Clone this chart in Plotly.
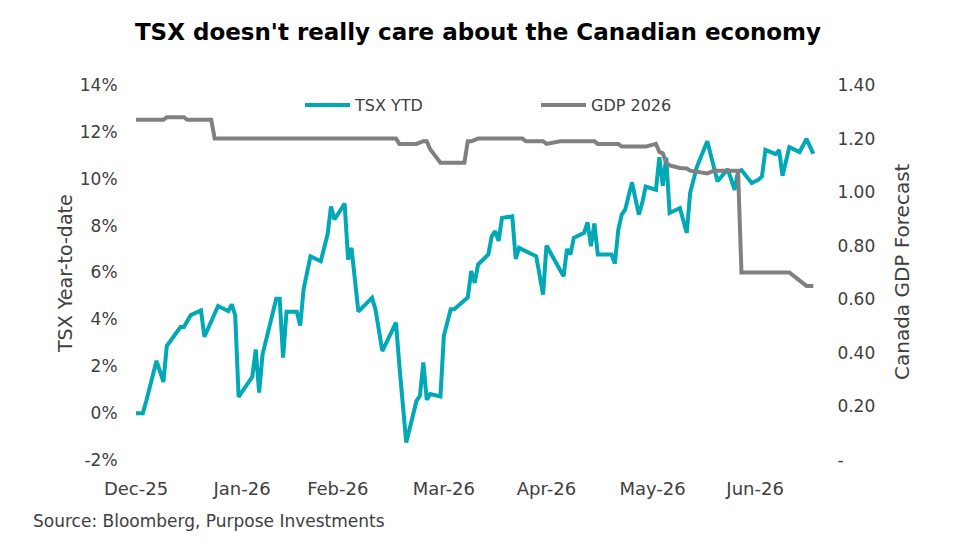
import plotly.graph_objects as go

# TSX year-to-date return (%)
tsx_dates = [
    "2025-12-31", "2026-01-02", "2026-01-03", "2026-01-05", "2026-01-06", "2026-01-08",
    "2026-01-09", "2026-01-13", "2026-01-14", "2026-01-16", "2026-01-19", "2026-01-20",
    "2026-01-24", "2026-01-27", "2026-01-28", "2026-01-29", "2026-01-30", "2026-02-03",
    "2026-02-04", "2026-02-05", "2026-02-06", "2026-02-10", "2026-02-11", "2026-02-12",
    "2026-02-13", "2026-02-16", "2026-02-17", "2026-02-18", "2026-02-20", "2026-02-23",
    "2026-02-25", "2026-02-26", "2026-02-27", "2026-03-02", "2026-03-03", "2026-03-04",
    "2026-03-06", "2026-03-10", "2026-03-11", "2026-03-13", "2026-03-17", "2026-03-18",
    "2026-03-20", "2026-03-23", "2026-03-24", "2026-03-25", "2026-03-26", "2026-03-27",
    "2026-03-30", "2026-03-31", "2026-04-02", "2026-04-03", "2026-04-06", "2026-04-07",
    "2026-04-08", "2026-04-09", "2026-04-10", "2026-04-13", "2026-04-14", "2026-04-15",
    "2026-04-16", "2026-04-17", "2026-04-20", "2026-04-21", "2026-04-22", "2026-04-24",
    "2026-04-27", "2026-04-29", "2026-04-30", "2026-05-05", "2026-05-06", "2026-05-07",
    "2026-05-08", "2026-05-11", "2026-05-12", "2026-05-13", "2026-05-14", "2026-05-15",
    "2026-05-19", "2026-05-20", "2026-05-21", "2026-05-22", "2026-05-23", "2026-05-25",
    "2026-05-27", "2026-05-28", "2026-05-29", "2026-06-01", "2026-06-02", "2026-06-03",
    "2026-06-04", "2026-06-05", "2026-06-08", "2026-06-10", "2026-06-11", "2026-06-13",
    "2026-06-16", "2026-06-19", "2026-06-22", "2026-06-24", "2026-06-25", "2026-06-26",
    "2026-06-29", "2026-07-01", "2026-07-02", "2026-07-03", "2026-07-06", "2026-07-07",
    "2026-07-08", "2026-07-10", "2026-07-13", "2026-07-15", "2026-07-17",
]
tsx_ytd = [
    0.00, 0.00, 0.52, 1.59, 2.23, 1.33,
    2.86, 3.67, 3.67, 4.18, 4.38, 3.26,
    4.57, 4.35, 4.64, 4.17, 0.69, 1.55,
    2.72, 0.88, 2.51, 4.88, 4.88, 2.37,
    4.33, 4.33, 3.74, 5.28, 6.69, 6.48,
    7.62, 8.82, 8.26, 8.94, 6.55, 7.05,
    4.33, 4.92, 4.43, 2.65, 3.86, 2.01,
    -1.25, 0.52, 0.74, 2.16, 0.57, 0.81,
    0.71, 3.30, 4.43, 4.43, 4.78, 4.93,
    6.06, 5.56, 6.34, 6.77, 7.55, 7.76,
    7.35, 8.33, 8.40, 6.58, 7.05, 6.90,
    6.69, 5.06, 7.15, 5.84, 7.00, 6.77,
    7.48, 7.69, 8.14, 7.12, 8.09, 6.77,
    6.77, 6.38, 7.83, 8.47, 8.68, 9.84,
    8.47, 8.97, 9.67, 9.53, 10.92, 9.70,
    10.90, 8.54, 8.75, 7.69, 9.40, 10.52,
    11.60, 9.89, 10.41, 9.53, 10.31, 10.37,
    9.82, 9.96, 10.10, 11.23, 11.05, 11.23,
    10.13, 11.35, 11.14, 11.70, 11.07,
]

# Canada 2026 GDP forecast (consensus)
gdp_dates = [
    "2025-12-31", "2026-01-08", "2026-01-09", "2026-01-14", "2026-01-15", "2026-01-22",
    "2026-01-23", "2026-03-17", "2026-03-18", "2026-03-23", "2026-03-25", "2026-03-26",
    "2026-03-27", "2026-03-30", "2026-04-06", "2026-04-07", "2026-04-08", "2026-04-10",
    "2026-04-23", "2026-04-24", "2026-04-29", "2026-04-30", "2026-05-04", "2026-05-14",
    "2026-05-15", "2026-05-21", "2026-05-22", "2026-05-29", "2026-06-01", "2026-06-02",
    "2026-06-03", "2026-06-04", "2026-06-05", "2026-06-08", "2026-06-10", "2026-06-11",
    "2026-06-16", "2026-06-18", "2026-06-25", "2026-06-26", "2026-07-10", "2026-07-13",
    "2026-07-15", "2026-07-17",
]
gdp_2026 = [
    1.27, 1.27, 1.28, 1.28, 1.27, 1.27,
    1.20, 1.20, 1.18, 1.18, 1.19, 1.19,
    1.16, 1.11, 1.11, 1.19, 1.19, 1.20,
    1.20, 1.19, 1.19, 1.18, 1.19, 1.19,
    1.18, 1.18, 1.17, 1.17, 1.18, 1.15,
    1.145, 1.11, 1.10, 1.09, 1.088, 1.08,
    1.07, 1.08, 1.08, 0.70, 0.70, 0.67,
    0.65, 0.65,
]

month_ticks = ["2025-12-31", "2026-01-31", "2026-02-28", "2026-03-31",
               "2026-04-30", "2026-05-31", "2026-06-30"]
month_labels = ["Dec-25", "Jan-26", "Feb-26", "Mar-26", "Apr-26", "May-26", "Jun-26"]

left_ticks = [-2, 0, 2, 4, 6, 8, 10, 12, 14]
left_labels = ["-2%", "0%", "2%", "4%", "6%", "8%", "10%", "12%", "14%"]
right_ticks = [0, 0.2, 0.4, 0.6, 0.8, 1.0, 1.2, 1.4]
right_labels = ["-", "0.20", "0.40", "0.60", "0.80", "1.00", "1.20", "1.40"]

TEAL = "#00A9B5"
GREY = "#808080"
FONT = "DejaVu Sans"
TXT = "#404040"
x_range = ["2025-12-31", "2026-07-17 12:00"]

# page body adds an 8px offset, so margins are shifted to keep the plot box in place
W, H = 956, 557
fig = go.Figure()
fig.add_trace(go.Scatter(x=tsx_dates, y=tsx_ytd, name="TSX YTD", mode="lines",
                         line=dict(color=TEAL, width=4)))
fig.add_trace(go.Scatter(x=gdp_dates, y=gdp_2026, name="GDP 2026", mode="lines",
                         line=dict(color=GREY, width=4), yaxis="y2"))

fig.update_layout(
    width=W, height=H,
    margin=dict(l=128, r=149, t=77, b=105),
    paper_bgcolor="white", plot_bgcolor="white",
    font=dict(family=FONT, color=TXT, size=16),
    title=dict(text="<b>TSX doesn't really care about the Canadian economy</b>",
               x=470 / W, xanchor="center", y=1 - 24 / H, yanchor="middle",
               font=dict(family=FONT, size=23, color="#000000")),
    showlegend=True,
    legend=dict(orientation="h", x=(300 - 136) / 679, xanchor="left",
                y=(460 - 105) / 375, yanchor="middle",
                bgcolor="rgba(0,0,0,0)", font=dict(size=16, color=TXT),
                entrywidth=176, itemwidth=45),
    xaxis=dict(type="date", range=x_range, tickvals=month_ticks, ticktext=month_labels,
               showgrid=False, showline=False, zeroline=False,
               ticks="outside", ticklen=12, tickcolor="rgba(0,0,0,0)",
               tickfont=dict(size=18, color=TXT)),
    xaxis2=dict(type="date", range=x_range, overlaying="x", anchor="free",
                position=0.125, tickvals=month_ticks, showticklabels=False,
                showgrid=False, zeroline=False, showline=True,
                linecolor="#d9d9d9", linewidth=1.5,
                ticks="outside", ticklen=5, tickcolor="#d9d9d9", tickwidth=1.5),
    yaxis=dict(range=[-2, 14], tickvals=left_ticks, ticktext=left_labels,
               showgrid=False, zeroline=False, showline=False,
               ticks="outside", ticklen=14, tickcolor="rgba(0,0,0,0)",
               tickfont=dict(size=17, color=TXT)),
    yaxis2=dict(range=[0, 1.4], tickvals=right_ticks, ticktext=right_labels,
                overlaying="y", side="right", showgrid=False, zeroline=False,
                showline=False, ticks="outside", ticklen=18,
                tickcolor="rgba(0,0,0,0)", tickfont=dict(size=17, color=TXT)),
    annotations=[
        dict(text="TSX Year-to-date", textangle=-90, xref="paper", yref="paper",
             x=(65 - 136) / 679, y=(460 - 274) / 375, xanchor="center",
             yanchor="middle", showarrow=False, font=dict(size=19, color=TXT)),
        dict(text="Canada GDP Forecast", textangle=-90, xref="paper", yref="paper",
             x=(902 - 136) / 679, y=(460 - 272) / 375, xanchor="center",
             yanchor="middle", showarrow=False, font=dict(size=20, color=TXT)),
        dict(text="Source: Bloomberg, Purpose Investments", xref="paper", yref="paper",
             x=(31 - 136) / 679, y=(460 - 521) / 375, xanchor="left",
             yanchor="middle", showarrow=False, font=dict(size=17, color=TXT)),
    ],
)

fig.write_html("out.html")
